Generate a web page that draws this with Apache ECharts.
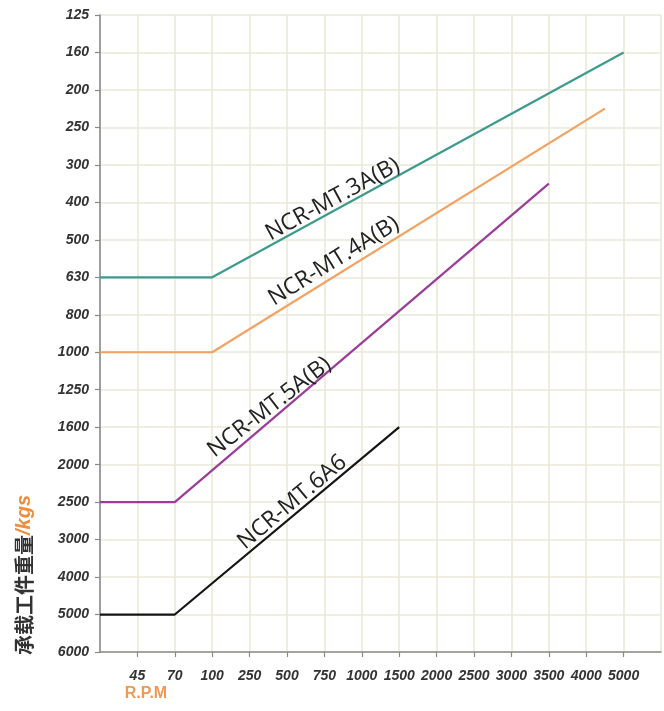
<!DOCTYPE html>
<html>
<head>
<meta charset="utf-8">
<script src="https://cdn.jsdelivr.net/npm/echarts@6/dist/echarts.min.js"></script>
<style>
html,body{margin:0;padding:0;background:#fff;}
#chart{width:664px;height:711px;}
</style>
</head>
<body>
<div id="chart"></div>
<script>
// Axis tick labels
var rpmLabels = ['', '45', '70', '100', '250', '500', '750', '1000', '1500', '2000', '2500', '3000', '3500', '4000', '5000', ''];
var rpmTicks = [0, 45, 70, 100, 250, 500, 750, 1000, 1500, 2000, 2500, 3000, 3500, 4000, 5000];
var loadLabels = ['125', '160', '200', '250', '300', '400', '500', '630', '800', '1000', '1250', '1600', '2000', '2500', '3000', '4000', '5000', '6000'];
var loadTicks = [125, 160, 200, 250, 300, 400, 500, 630, 800, 1000, 1250, 1600, 2000, 2500, 3000, 4000, 5000, 6000];

// Series (rpm, load in kg); first point is the left axis edge
var seriesNames = ['NCR-MT.3A(B)', 'NCR-MT.4A(B)', 'NCR-MT.5A(B)', 'NCR-MT.6A6'];
var rpm3A = [0, 100, 5000];   var load3A = [630, 630, 160];
var rpm4A = [0, 100, 4500];   var load4A = [1000, 1000, 225];
var rpm5A = [0, 70, 3500];    var load5A = [2500, 2500, 350];
var rpm6A = [0, 70, 1500];    var load6A = [5000, 5000, 1600];
var seriesColors = ['#3e9a8e', '#f2a262', '#9a3d98', '#151515'];

// Label anchor positions (in axis-step units) and angles
var labelAnchors = [[6.22, 4.92], [6.25, 6.57], [4.53, 10.47], [5.14, 13.0]];
var labelAngles = [28.6, 31.8, 37.7, 39.8];

// Piecewise-linear position of a value on a tick list (the chart's axis scale)
function posOf(ticks, v) {
  for (var i = 0; i < ticks.length - 1; i++) {
    if (v >= ticks[i] && v <= ticks[i + 1]) {
      return i + (v - ticks[i]) / (ticks[i + 1] - ticks[i]);
    }
  }
  return ticks.length - 1;
}
function toPoints(rpms, loads) {
  return rpms.map(function (r, i) { return [posOf(rpmTicks, r), posOf(loadTicks, loads[i])]; });
}
var allRpm = [rpm3A, rpm4A, rpm5A, rpm6A];
var allLoad = [load3A, load4A, load5A, load6A];

var tickFont = {
  fontFamily: '"Liberation Sans Narrow", "Liberation Sans", Arial, sans-serif',
  fontWeight: 'bold', fontStyle: 'italic', fontSize: 14, color: '#333'
};

var series = seriesNames.map(function (name, k) {
  return {
    name: name, type: 'line', xAxisIndex: 1, yAxisIndex: 1,
    data: toPoints(allRpm[k], allLoad[k]),
    symbol: 'none', silent: true,
    lineStyle: { color: seriesColors[k], width: 2.2 },
    markPoint: {
      symbol: 'circle', symbolSize: 0, silent: true,
      data: [{ coord: labelAnchors[k], value: name }],
      label: {
        show: true, position: 'inside', formatter: name,
        rotate: labelAngles[k], color: '#222', fontSize: 23,
        fontFamily: '"Open Sans", "Noto Sans", sans-serif'
      }
    }
  };
});

var chart = echarts.init(document.getElementById('chart'), null, { renderer: 'canvas' });
chart.setOption({
  backgroundColor: '#ffffff',
  animation: false,
  grid: { left: 100, right: 2, top: 15, bottom: 59, containLabel: false },
  xAxis: [{
    type: 'category', data: rpmLabels, boundaryGap: false, position: 'bottom',
    axisLine: { show: true, onZero: false, lineStyle: { color: '#8a8a8a', width: 1.6 } },
    axisTick: { show: true, length: 5, lineStyle: { color: '#8a8a8a', width: 1.2 },
      interval: function (i, v) { return v !== ''; } },
    axisLabel: Object.assign({ interval: 0, margin: 17 }, tickFont),
    splitLine: { show: true, interval: 0, lineStyle: { color: '#eae9d8', width: 1.6 } }
  }, {
    type: 'value', min: 0, max: rpmLabels.length - 1, show: false,
    axisLine: { show: false, onZero: false }, axisTick: { show: false }, axisLabel: { show: false }, splitLine: { show: false }
  }],
  yAxis: [{
    type: 'category', data: loadLabels, boundaryGap: false, inverse: true,
    axisLine: { show: true, onZero: false, lineStyle: { color: '#8a8a8a', width: 1.6 } },
    axisTick: { show: true, length: 5, interval: 0, lineStyle: { color: '#8a8a8a', width: 1.2 } },
    axisLabel: Object.assign({ interval: 0, margin: 11 }, tickFont),
    splitLine: { show: true, interval: 0, lineStyle: { color: '#eae9d8', width: 1.6 } }
  }, {
    type: 'value', min: 0, max: loadLabels.length - 1, inverse: true, show: false,
    axisLine: { show: false, onZero: false }, axisTick: { show: false }, axisLabel: { show: false }, splitLine: { show: false }
  }],
  graphic: [{
    type: 'text', x: 24, y: 575, rotation: Math.PI / 2,
    style: {
      text: '{a|承载工件重量}{b|/kgs}',
      align: 'center', verticalAlign: 'middle',
      rich: {
        a: { fontFamily: '"Noto Sans CJK SC", sans-serif', fontSize: 20, fontWeight: 'bold', fill: '#333' },
        b: { fontFamily: '"Liberation Sans", Arial, sans-serif', fontSize: 20, fontWeight: 'bold', fontStyle: 'italic', fill: '#ee8d3e' }
      }
    }
  }, {
    type: 'text', x: 146, y: 694,
    style: {
      text: 'R.P.M', align: 'center', verticalAlign: 'middle',
      fontFamily: '"Liberation Sans", Arial, sans-serif', fontSize: 16, fontWeight: 'bold', fill: '#ee9a55'
    }
  }],
  series: series
});
</script>
</body>
</html>
